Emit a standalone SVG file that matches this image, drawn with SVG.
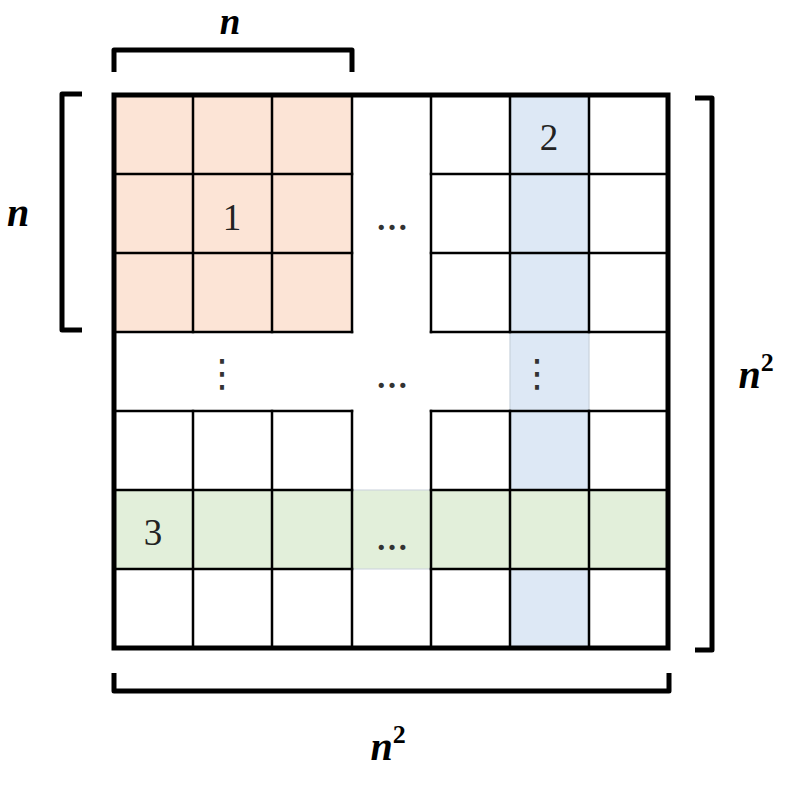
<svg xmlns="http://www.w3.org/2000/svg" width="800" height="789" viewBox="0 0 800 789">
<style>
.grid{stroke:#000;stroke-width:2.5;fill:none;stroke-linecap:square}
.faint{stroke:#c9d2dc;stroke-width:1.2;fill:none}
.br{stroke:#000;stroke-width:5;fill:none;stroke-linejoin:round}
.num{font-family:"Liberation Serif","DejaVu Serif",serif;font-size:37px;fill:#222;text-anchor:middle}
.dots{font-family:"Liberation Serif","DejaVu Serif",serif;font-size:32px;font-weight:bold;fill:#333;text-anchor:middle}
.vdots{font-family:"DejaVu Sans",sans-serif;font-size:38px;fill:#333;text-anchor:middle}
.lab{font-family:"Liberation Serif","DejaVu Serif",serif;font-size:40px;font-weight:bold;font-style:italic;fill:#000;text-anchor:middle}
.top{font-size:37px}
.sup{font-size:26px;font-style:normal}
</style>
<rect width="800" height="789" fill="#fff"/>
<g id="fills">
<rect x="114" y="95" width="238" height="237" fill="#fce4d6"/>
<rect x="510" y="95" width="79" height="553" fill="#dde8f5"/>
<rect x="114" y="490" width="554" height="79" fill="#e2efda"/>
</g>
<g id="grid">
<path class="faint" d="M510 332V411M589 332V411M352 490H431M352 569H431"/>
<path class="grid" d="M114 174H352M431 174H668M114 253H352M431 253H668M114 332H352M431 332H668M114 411H352M431 411H668M114 490H352M431 490H668M114 569H352M431 569H668"/>
<path class="grid" d="M193 95V332M193 411V648M272 95V332M272 411V648M352 95V332M352 411V648M431 95V332M431 411V648M510 95V332M510 411V648M589 95V332M589 411V648"/>
<rect x="114" y="95" width="554" height="553" fill="none" stroke="#000" stroke-width="5"/>
</g>
<g id="cell-labels">
<text class="num" x="232" y="230">1</text>
<text class="num" x="549" y="150">2</text>
<text class="num" x="153" y="545">3</text>
<text class="dots" x="392" y="230">…</text>
<text class="dots" x="392" y="388">…</text>
<text class="dots" x="392" y="550">…</text>
<text class="vdots" x="222" y="386">⋮</text>
<text class="vdots" x="537" y="386">⋮</text>
</g>
<g id="brackets">
<path class="br" d="M114 72V50H352V72"/>
<path class="br" d="M82 94H62V330H82"/>
<path class="br" d="M695 98H712V650H695"/>
<path class="br" d="M114 673V691H669V673"/>
</g>
<g id="dimension-labels">
<text class="lab top" x="230" y="34">n</text>
<text class="lab" x="18" y="226">n</text>
<text class="lab" x="756" y="388">n<tspan class="sup" dy="-17">2</tspan></text>
<text class="lab" x="388" y="760">n<tspan class="sup" dy="-17">2</tspan></text>
</g>
</svg>
